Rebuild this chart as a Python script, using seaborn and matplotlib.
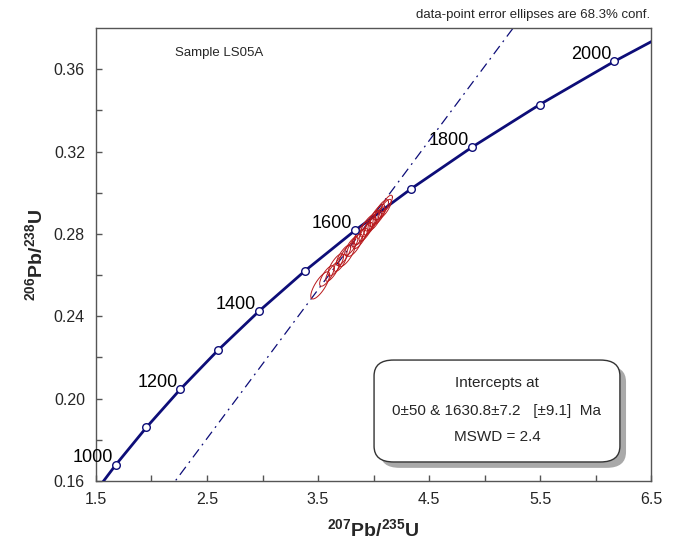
import numpy as np
import pandas as pd
import matplotlib
matplotlib.use("Agg")
import matplotlib.pyplot as plt
from matplotlib.patches import FancyBboxPatch
import seaborn as sns

# Concordia points (age in Ma, 207Pb/235U, 206Pb/238U)
conc_age = [900, 1000, 1100, 1200, 1300, 1400, 1500, 1600, 1700, 1800, 1900, 2000, 2100]
conc_x = [1.4263, 1.6774, 1.9545, 2.2603, 2.5977, 2.9701, 3.3810, 3.8344, 4.3347, 4.8869, 5.4962, 6.1685, 6.9105]
conc_y = [0.14983, 0.16780, 0.18606, 0.20460, 0.22344, 0.24256, 0.26199, 0.28172, 0.30175, 0.32211, 0.34277, 0.36377, 0.38509]
label_ages = [1000, 1200, 1400, 1600, 1800, 2000]

# Discordia: lower and upper intercept points
disc_x = [0.0, 3.9833]
disc_y = [0.0, 0.28785]

# Data-point ellipses (centre x, centre y, sigma x, sigma y, rho)
ell_x = [3.52, 3.58, 3.63, 3.66, 3.70, 3.73, 3.76, 3.80, 3.83, 3.86, 3.88,
         3.90, 3.93, 3.95, 3.97, 3.99, 4.01, 4.03, 4.05, 4.07, 4.10, 4.12]
ell_y = [0.2550, 0.2596, 0.2616, 0.2650, 0.2660, 0.2696, 0.2699, 0.2741, 0.2745, 0.2780, 0.2778,
         0.2806, 0.2810, 0.2839, 0.2837, 0.2864, 0.2863, 0.2890, 0.2889, 0.2916, 0.2922, 0.2948]
ell_sx = [0.085, 0.065, 0.060, 0.070, 0.055, 0.065, 0.075, 0.060, 0.070, 0.055, 0.065,
          0.075, 0.060, 0.070, 0.055, 0.065, 0.060, 0.070, 0.055, 0.065, 0.060, 0.050]
ell_sy = [0.0066, 0.0050, 0.0046, 0.0054, 0.0042, 0.0050, 0.0058, 0.0046, 0.0054, 0.0042, 0.0050,
          0.0058, 0.0046, 0.0054, 0.0042, 0.0050, 0.0046, 0.0054, 0.0042, 0.0050, 0.0046, 0.0040]
ell_rho = [0.78, 0.76, 0.80, 0.77, 0.74, 0.79, 0.77, 0.80, 0.75, 0.77, 0.79,
           0.77, 0.79, 0.75, 0.77, 0.79, 0.76, 0.80, 0.75, 0.77, 0.79, 0.76]

xticks = [1.5, 2.5, 3.5, 4.5, 5.5, 6.5]
yticks = [0.16, 0.20, 0.24, 0.28, 0.32, 0.36]

sns.set_style("white")
plt.rcParams['font.family'] = ['Liberation Sans', 'DejaVu Sans']
plt.rcParams['mathtext.fontset'] = 'custom'
plt.rcParams['mathtext.rm'] = 'Liberation Sans'
plt.rcParams['mathtext.bf'] = 'Liberation Sans:bold'

fig = plt.figure(figsize=(6.76, 5.44), dpi=100)
ax = fig.add_axes([96 / 676, 1 - 481 / 544, 555 / 676, 453 / 544])

navy = "#0d0d78"
ax.set_xlim(1.5, 6.5)
ax.set_ylim(0.16, 0.38)

# Discordia (extended across the plot)
ext_x = [disc_x[0], disc_x[1] * 2.0]
ext_y = [disc_y[0], disc_y[1] * 2.0]
ax.plot(ext_x, ext_y, color=navy, lw=0.9, linestyle=(0, (8, 4, 1.5, 4)), zorder=2)

# Concordia curve
df = pd.DataFrame({"age": conc_age, "x": conc_x, "y": conc_y})
sns.lineplot(data=df, x="x", y="y", sort=False, color=navy, lw=2.0, ax=ax, zorder=3)

# Ellipses
t = np.linspace(0, 2 * np.pi, 120)
for cx, cy, sx, sy, r in zip(ell_x, ell_y, ell_sx, ell_sy, ell_rho):
    ex = cx + sx * np.cos(t)
    ey = cy + sy * (r * np.cos(t) + np.sqrt(1 - r * r) * np.sin(t))
    ax.plot(ex, ey, color="#b8191c", lw=0.7, zorder=4)

# Age markers
sns.scatterplot(data=df, x="x", y="y", marker="o", s=30, color="white",
                edgecolor=navy, linewidth=1.0, ax=ax, zorder=5, clip_on=True)

for a, x, y in zip(conc_age, conc_x, conc_y):
    if a in label_ages:
        ax.annotate(str(a), (x, y), xytext=(-3, 7), textcoords="offset pixels",
                    ha="right", va="center", fontsize=13, color="black", zorder=6)

# Axes styling
ax.set_xticks(xticks)
ax.set_xticklabels([f"{v:.1f}" for v in xticks])
ax.set_yticks(yticks)
ax.set_yticklabels([f"{v:.2f}" for v in yticks])
ax.set_xticks([2.0, 3.0, 4.0, 5.0, 6.0], minor=True)
ax.set_yticks([0.18, 0.22, 0.26, 0.30, 0.34], minor=True)
ax.tick_params(which="both", direction="in", length=4, width=1, color="#555555",
               labelsize=11.5, top=False, right=False, bottom=True, left=True, pad=8)
for s in ax.spines.values():
    s.set_color("#555555")
    s.set_linewidth(1.0)
    s.set_visible(True)

ax.set_xlabel(r"$^{\mathbf{207}}$Pb/$^{\mathbf{235}}$U", fontsize=14, fontweight="bold", labelpad=8)
ax.set_ylabel(r"$^{\mathbf{206}}$Pb/$^{\mathbf{238}}$U", fontsize=14, fontweight="bold", labelpad=5)

ax.text((175 - 96) / 555, (481 - 53) / 453, "Sample LS05A", transform=ax.transAxes,
        fontsize=9.5, ha="left", va="center")
fig.text(650 / 676, 1 - 15 / 544, "data-point error ellipses are 68.3% conf.",
         fontsize=9.5, ha="right", va="center")

# Result box with shadow
bx0, by0, bw, bh = 0.501, 0.042, 0.443, 0.225
shadow = FancyBboxPatch((bx0 + 0.011, by0 - 0.013), bw, bh,
                        boxstyle="round,pad=0,rounding_size=0.035",
                        transform=ax.transAxes, facecolor="#a9a9a9", edgecolor="none", zorder=7)
box = FancyBboxPatch((bx0, by0), bw, bh, boxstyle="round,pad=0,rounding_size=0.035",
                     transform=ax.transAxes, facecolor="white", edgecolor="#333333", lw=1.0, zorder=8)
ax.add_patch(shadow)
ax.add_patch(box)
cxm = bx0 + bw / 2
ax.text(cxm, 0.216, "Intercepts at", transform=ax.transAxes, ha="center", va="center", fontsize=11, zorder=9)
ax.text(cxm, 0.155, "0±50 & 1630.8±7.2   [±9.1]  Ma", transform=ax.transAxes, ha="center", va="center", fontsize=11, zorder=9)
ax.text(cxm, 0.097, "MSWD = 2.4", transform=ax.transAxes, ha="center", va="center", fontsize=11, zorder=9)

fig.savefig("out.png", dpi=100)
